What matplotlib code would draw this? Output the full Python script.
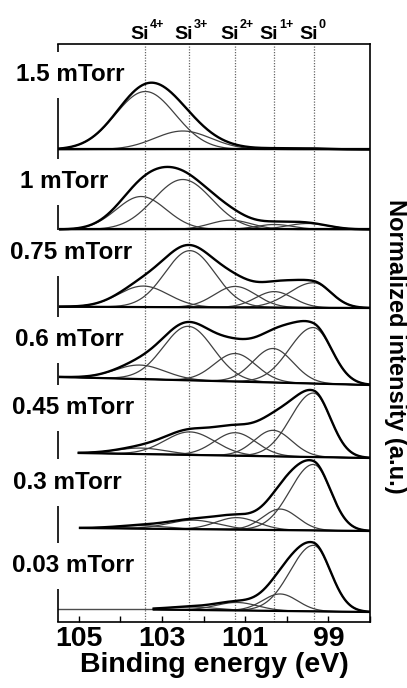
import numpy as np
import matplotlib.pyplot as plt
from matplotlib.transforms import offset_copy

plt.rcParams['font.family'] = ['Liberation Sans', 'DejaVu Sans']

# chemical states, dotted guide positions (eV)
states = ['4+', '3+', '2+', '1+', '0']
state_pos = [103.42, 102.35, 101.25, 100.3, 99.35]

pressures = ['1.5 mTorr', '1 mTorr', '0.75 mTorr', '0.6 mTorr', '0.45 mTorr', '0.3 mTorr', '0.03 mTorr']
offsets = [4.725, 3.925, 3.14, 2.37, 1.64, 0.91, 0.10]
bg_rise = [0.0, 0.0, 0.013, 0.08, 0.05, 0.03, 0.025]
e_start = [105.5, 105.45, 105.45, 105.45, 105.0, 104.97, 103.2]

# fitted components: Si4+, Si3+, Si2+, Si1+, Si0
centers = [
    [103.4, 102.5, 101.3, 100.3, 99.4],
    [103.5, 102.5, 101.35, 100.3, 99.5],
    [103.45, 102.33, 101.24, 100.3, 99.36],
    [103.53, 102.37, 101.24, 100.33, 99.36],
    [103.5, 102.33, 101.24, 100.33, 99.36],
    [103.5, 102.25, 101.2, 100.16, 99.36],
    [103.5, 102.3, 101.2, 100.16, 99.36],
]
heights = [
    [0.58, 0.185, 0.01, 0.01, 0.01],
    [0.33, 0.50, 0.093, 0.05, 0.06],
    [0.21, 0.566, 0.21, 0.16, 0.25],
    [0.14, 0.54, 0.28, 0.34, 0.56],
    [0.06, 0.23, 0.23, 0.26, 0.64],
    [0.03, 0.09, 0.12, 0.21, 0.66],
    [0.0, 0.03, 0.08, 0.17, 0.66],
]
# widths on high-BE side (left) and low-BE side (right)
width_hi = [
    [0.72, 0.68, 0.5, 0.45, 0.45],
    [0.6, 0.7, 0.5, 0.45, 0.5],
    [0.6, 0.6, 0.5, 0.45, 0.58],
    [0.6, 0.6, 0.5, 0.48, 0.58],
    [0.6, 0.6, 0.5, 0.45, 0.55],
    [0.6, 0.6, 0.5, 0.42, 0.56],
    [0.6, 0.6, 0.5, 0.42, 0.56],
]
width_lo = [
    [0.72, 0.68, 0.5, 0.45, 0.45],
    [0.6, 0.7, 0.5, 0.45, 0.5],
    [0.6, 0.6, 0.5, 0.45, 0.42],
    [0.6, 0.6, 0.5, 0.48, 0.44],
    [0.6, 0.6, 0.5, 0.45, 0.41],
    [0.6, 0.6, 0.5, 0.42, 0.41],
    [0.6, 0.6, 0.5, 0.42, 0.41],
]

# label placement (layout only)
label_height = [0.745, 0.475, 0.55, 0.45, 0.50, 0.485, 0.46]
label_left_px = [16, 20, 10, 15, 12, 13, 12]

XMIN, XMAX = 105.5, 98.0
YMAX = 5.78


def peak(e, c, h, s_hi, s_lo):
    s = np.where(e >= c, s_hi, s_lo)
    return h * np.exp(-(e - c) ** 2 / (2 * s ** 2))


fig = plt.figure(figsize=(4.07, 6.88), dpi=100)
ax = fig.add_axes([58 / 407, 66 / 688, 312 / 407, 578 / 688])
ax.set_xlim(XMIN, XMAX)
ax.set_ylim(0, YMAX)

for x in state_pos:
    ax.axvline(x, color='0.4', lw=0.9, ls=(0, (1, 1.2)), zorder=1)

for i, name in enumerate(pressures):
    e = np.linspace(e_start[i], XMAX, 700)
    bg = offsets[i] + bg_rise[i] * (e - XMAX) / (e_start[i] - XMAX)
    total = np.zeros_like(e)
    for c, h, sh, sl in zip(centers[i], heights[i], width_hi[i], width_lo[i]):
        if h <= 0:
            continue
        comp = peak(e, c, h, sh, sl)
        total += comp
        ax.plot(e, bg + comp, color='0.25', lw=0.9, zorder=2)
    ax.plot(e, bg, color='black', lw=1.6, zorder=3)
    ax.plot(e, bg + total, color='black', lw=1.7, zorder=4)
    if e_start[i] < 104:
        # flat lead-in where the scan did not reach
        ax.plot([XMIN, e_start[i]], [bg[0] + 0.01, bg[0] + 0.01], color='0.3', lw=1.0, zorder=2)
    ax.text((label_left_px[i] - 58) / 312, (offsets[i] + label_height[i]) / YMAX, name,
            transform=ax.transAxes, fontsize=17.5, fontweight='bold', ha='left', va='center')

# left spine is broken where the pressure labels sit
ax.spines['left'].set_visible(False)
gap = 23 / 578
edges = [1.0]
for i in range(len(pressures)):
    yc = (offsets[i] + label_height[i]) / YMAX
    edges += [yc + gap, yc - gap]
edges.append(0.0)
for top, bot in zip(edges[0::2], edges[1::2]):
    ax.plot([0, 0], [bot, top], transform=ax.transAxes, color='black', lw=1.2,
            clip_on=False, zorder=5, solid_capstyle='butt')

for sp in ['top', 'right', 'bottom']:
    ax.spines[sp].set_linewidth(1.2)

# Si^n+ labels above the guides
xt = ax.get_xaxis_transform()
for sup, x in zip(states, state_pos):
    base = offset_copy(xt, fig=fig, x=4, y=5, units='dots')
    ax.text(x, 1, 'Si', transform=base, fontsize=14, fontweight='bold',
            ha='right', va='baseline')
    upper = offset_copy(xt, fig=fig, x=5, y=16, units='dots')
    ax.text(x, 1, sup, transform=upper, fontsize=9, fontweight='bold',
            ha='left', va='baseline')

ax.set_xticks([105, 103, 101, 99])
ax.set_xticks([104, 102, 100, 98], minor=True)
ax.set_yticks([])
ax.tick_params(axis='x', which='both', direction='in', length=4, width=1, pad=3,
               labelsize=20.5)
for lab in ax.get_xticklabels():
    lab.set_fontweight('bold')
ax.set_xlabel('Binding energy (eV)', fontsize=20.5, fontweight='bold', labelpad=0)

fig.text(395 / 407, 1 - 346 / 688, 'Normalized intensity (a.u.)', rotation=-90,
         fontsize=17, fontweight='bold', ha='center', va='center')

fig.savefig('out.png', dpi=100)
